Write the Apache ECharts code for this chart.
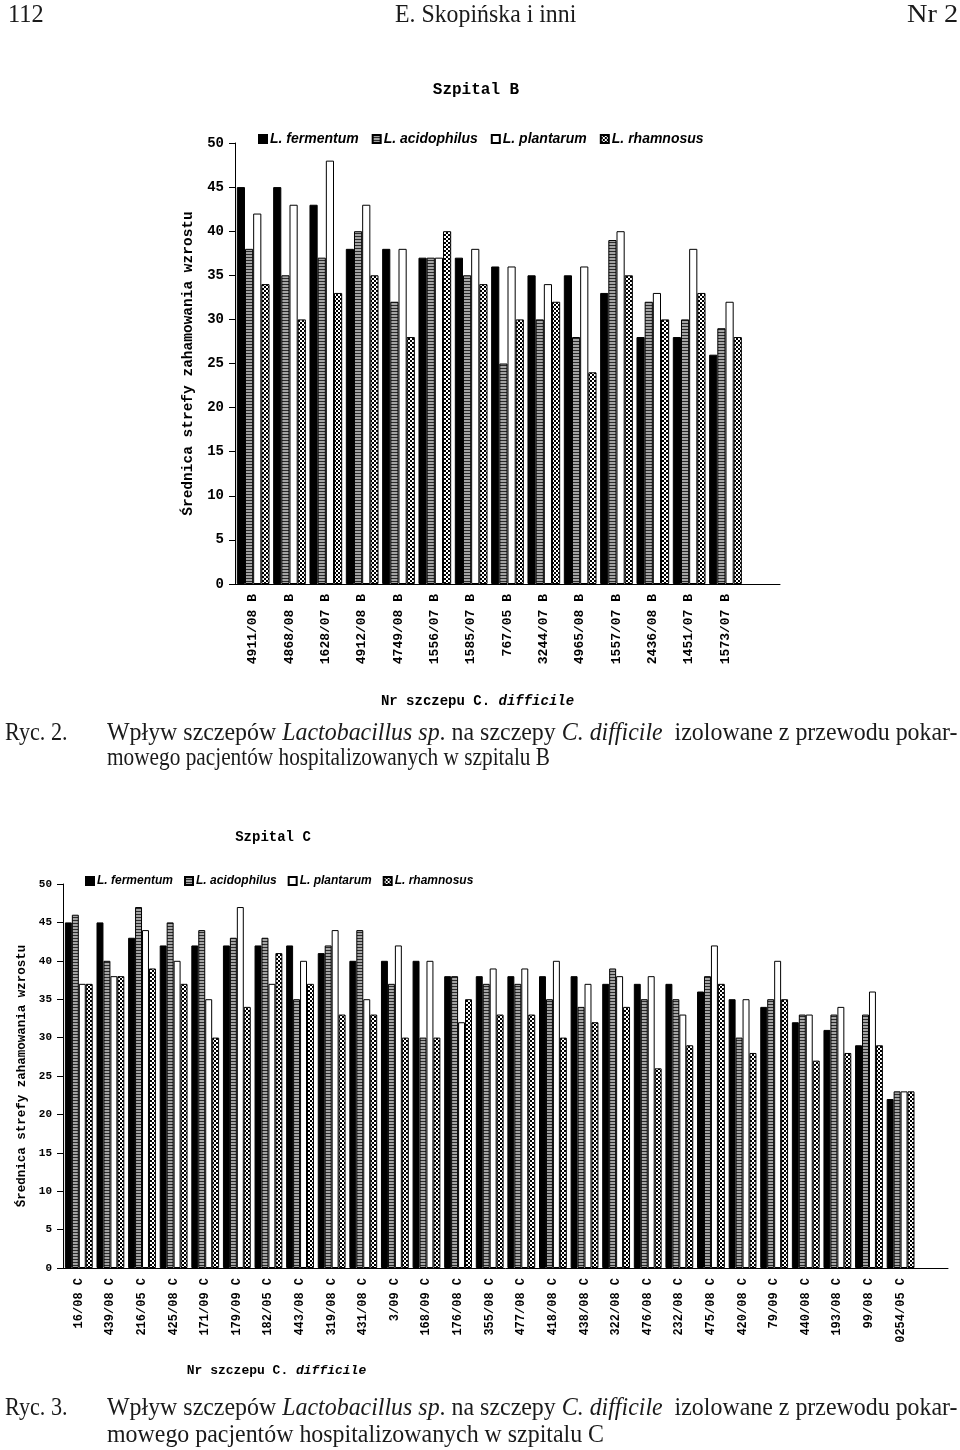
<!DOCTYPE html>
<html>
<head>
<meta charset="utf-8">
<script src="https://cdn.jsdelivr.net/npm/echarts@6/dist/echarts.min.js"></script>
<style>
body { margin: 0; background: #fff; }
#page { position: relative; width: 960px; height: 1450px; overflow: hidden; }
#chart { position: absolute; left: 0; top: 0; width: 960px; height: 1450px; }
.t { position: absolute; font-family: "Liberation Serif", serif; color: #1a1a1a; white-space: nowrap; transform-origin: 0 0; line-height: 1; }
.h { font-size: 25px; }
.c { font-size: 25px; }
</style>
</head>
<body>
<div id="page">
  <div id="chart"></div>
  <div class="t h" style="left:8px;top:1px" data-w="36">112</div>
  <div class="t h" style="left:395px;top:1px" data-w="181">E. Skopińska i inni</div>
  <div class="t h" style="left:907px;top:1px" data-w="51">Nr 2</div>

  <div class="t c" style="left:5px;top:719px" data-w="63">Ryc. 2.</div>
  <div class="t c" style="left:107px;top:719px" data-w="851">Wpływ szczepów <i>Lactobacillus sp</i>. na szczepy <i>C. difficile</i>&nbsp; izolowane z przewodu pokar-</div>
  <div class="t c" style="left:107px;top:744px" data-w="443">mowego pacjentów hospitalizowanych w szpitalu B</div>

  <div class="t c" style="left:5px;top:1394px" data-w="63">Ryc. 3.</div>
  <div class="t c" style="left:107px;top:1394px" data-w="851">Wpływ szczepów <i>Lactobacillus sp</i>. na szczepy <i>C. difficile</i>&nbsp; izolowane z przewodu pokar-</div>
  <div class="t c" style="left:107px;top:1421px" data-w="497">mowego pacjentów hospitalizowanych w szpitalu C</div>
</div>
<script>
// Szpital B
var strainsB = ['4911/08 B', '4868/08 B', '1628/07 B', '4912/08 B', '4749/08 B', '1556/07 B', '1585/07 B',
    '767/05 B', '3244/07 B', '4965/08 B', '1557/07 B', '2436/08 B', '1451/07 B', '1573/07 B'];
var fermentumB   = [45, 45, 43, 38, 38, 37, 37, 36, 35, 35, 33, 28, 28, 26];
var acidophilusB = [38, 35, 37, 40, 32, 37, 35, 25, 30, 28, 39, 32, 30, 29];
var plantarumB   = [42, 43, 48, 43, 38, 37, 38, 36, 34, 36, 40, 33, 38, 32];
var rhamnosusB   = [34, 30, 33, 35, 28, 40, 34, 30, 32, 24, 35, 30, 33, 28];

// Szpital C
var strainsC = ['16/08 C', '439/08 C', '216/05 C', '425/08 C', '171/09 C', '179/09 C', '182/05 C', '443/08 C',
    '319/08 C', '431/08 C', '3/09 C', '168/09 C', '176/08 C', '355/08 C', '477/08 C', '418/08 C', '438/08 C',
    '322/08 C', '476/08 C', '232/08 C', '475/08 C', '420/08 C', '79/09 C', '440/08 C', '193/08 C', '99/08 C', '0254/05 C'];
var fermentumC   = [45, 45, 43, 42, 42, 42, 42, 42, 41, 40, 40, 40, 38, 38, 38, 38, 38, 37, 37, 37, 36, 35, 34, 32, 31, 29, 22];
var acidophilusC = [46, 40, 47, 45, 44, 43, 43, 35, 42, 44, 37, 30, 38, 37, 37, 35, 34, 39, 35, 35, 38, 30, 35, 33, 33, 33, 23];
var plantarumC   = [37, 38, 44, 40, 35, 47, 37, 40, 44, 35, 42, 40, 32, 39, 39, 40, 37, 38, 38, 33, 42, 35, 40, 33, 34, 36, 23];
var rhamnosusC   = [37, 38, 39, 37, 30, 34, 41, 37, 33, 33, 30, 30, 35, 33, 33, 30, 32, 34, 26, 29, 37, 28, 35, 27, 28, 29, 23];

var names = ['L. fermentum', 'L. acidophilus', 'L. plantarum', 'L. rhamnosus'];
var yTicks = [0, 50, 5]; // min, max, step

// squeeze the page text to the scanned widths
document.querySelectorAll('.t').forEach(function (el) {
    var w = +el.getAttribute('data-w');
    el.style.transform = 'scaleX(' + (w / el.offsetWidth) + ')';
});

function pattern(w, h, draw) {
    var c = document.createElement('canvas');
    c.width = w;
    c.height = h;
    draw(c.getContext('2d'));
    return { image: c, repeat: 'repeat' };
}

var fills = [
    '#000',
    pattern(1, 3, function (ctx) {
        ctx.fillStyle = '#a4a4a4'; ctx.fillRect(0, 0, 1, 3);
        ctx.fillStyle = '#2a2a2a'; ctx.fillRect(0, 2, 1, 1);
    }),
    '#fff',
    pattern(4, 4, function (ctx) {
        ctx.fillStyle = '#000'; ctx.fillRect(0, 0, 4, 4);
        ctx.fillStyle = '#fff'; ctx.fillRect(0, 0, 2, 2); ctx.fillRect(2, 2, 2, 2);
    })
];

var mono = '"Liberation Mono", "DejaVu Sans Mono", monospace';

function bars(idx, lists, gap) {
    return lists.map(function (d, i) {
        return {
            name: names[i],
            type: 'bar',
            xAxisIndex: idx,
            yAxisIndex: idx,
            barGap: '0%',
            barCategoryGap: gap,
            itemStyle: { color: fills[i], borderColor: '#000', borderWidth: 1 },
            data: d
        };
    });
}

function xAxis(idx, cats, fs, nameGap, shift) {
    return {
        type: 'category',
        gridIndex: idx,
        data: cats.concat(['']),
        boundaryGap: true,
        name: 'Nr szczepu C. {i|difficile}',
        nameLocation: 'middle',
        nameGap: nameGap,
        nameTextStyle: {
            fontFamily: mono, fontWeight: 'bold', fontSize: fs + 1, color: '#000',
            padding: [0, shift, 0, 0],
            rich: { i: { fontFamily: mono, fontWeight: 'bold', fontStyle: 'italic', fontSize: fs + 1, color: '#000' } }
        },
        axisLine: { lineStyle: { color: '#000', width: 1 } },
        axisTick: { length: 5, lineStyle: { color: '#000' } },
        axisLabel: { rotate: 90, interval: 0, margin: 10, fontFamily: mono, fontWeight: 'bold', fontSize: fs, color: '#000' },
        splitLine: { show: false }
    };
}

function yAxis(idx, fs, nameFs, nameGap) {
    return {
        type: 'value',
        gridIndex: idx,
        min: yTicks[0],
        max: yTicks[1],
        interval: yTicks[2],
        name: 'Średnica strefy zahamowania wzrostu',
        nameLocation: 'middle',
        nameRotate: 90,
        nameGap: nameGap,
        nameTextStyle: { fontFamily: mono, fontWeight: 'bold', fontSize: nameFs, color: '#000' },
        axisLine: { show: true, lineStyle: { color: '#000', width: 1 } },
        axisTick: { show: true, length: 6, lineStyle: { color: '#000' } },
        axisLabel: { margin: 11, fontFamily: mono, fontWeight: 'bold', fontSize: fs, color: '#000' },
        splitLine: { show: false }
    };
}

function legend(left, top, fs, gap) {
    return {
        left: left,
        top: top,
        padding: 0,
        itemWidth: 8,
        itemHeight: 8,
        itemGap: gap,
        icon: 'rect',
        data: names,
        textStyle: { fontFamily: '"Liberation Sans", Arial, sans-serif', fontWeight: 'bold', fontStyle: 'italic', fontSize: fs, color: '#000', padding: [0, 0, 0, -2] }
    };
}

var chart = echarts.init(document.getElementById('chart'));
chart.setOption({
    backgroundColor: '#fff',
    animation: false,
    title: [
        { text: 'Szpital B', left: 476, top: 82, textAlign: 'center', padding: 0,
          textStyle: { fontFamily: mono, fontWeight: 'bold', fontSize: 16, color: '#000' } },
        { text: 'Szpital C', left: 273, top: 830, textAlign: 'center', padding: 0,
          textStyle: { fontFamily: mono, fontWeight: 'bold', fontSize: 14, color: '#000' } }
    ],
    legend: [legend(258, 132, 14, 13), legend(85, 875, 12, 11)],
    grid: [
        { left: 235, top: 143, width: 545, height: 441 },
        { left: 63, top: 884, width: 885, height: 384 }
    ],
    xAxis: [xAxis(0, strainsB, 13, 110, 60), xAxis(1, strainsC, 12, 96, 458)],
    yAxis: [yAxis(0, 14, 14.5, 38), yAxis(1, 11, 12.5, 30)],
    series: bars(0, [fermentumB, acidophilusB, plantarumB, rhamnosusB], '10%')
        .concat(bars(1, [fermentumC, acidophilusC, plantarumC, rhamnosusC], '12%'))
});
</script>
</body>
</html>
